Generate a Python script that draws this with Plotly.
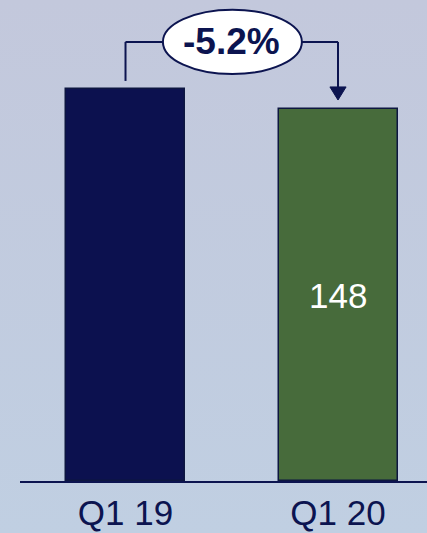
import plotly.graph_objects as go

# Quarterly values
categories = ["Q1 19", "Q1 20"]
values = [156, 148]
bar_colors = ["#0c114f", "#476b3b"]
labelled_bar = 1
change_label = "-5.2%"

NAVY = "#0c1450"
BG_TOP = "#c3c8dc"
BG_BOTTOM = "#c0cfe2"

fig = go.Figure()

# Soft vertical background gradient on a hidden full-page axis pair
fig.add_trace(go.Scatter(
    x=[0, 1, 1, 0, 0], y=[0, 0, 1, 1, 0],
    xaxis="x", yaxis="y",
    mode="none", fill="toself",
    fillgradient=dict(type="vertical", colorscale=[[0, BG_BOTTOM], [1, BG_TOP]]),
    hoverinfo="skip", showlegend=False,
))

fig.add_trace(go.Bar(
    x=[0, 1], y=values,
    xaxis="x2", yaxis="y2",
    width=0.56,
    marker=dict(color=bar_colors, line=dict(color="#0d1640", width=1.5)),
    showlegend=False,
))

# value label centred inside the labelled bar
fig.add_annotation(
    x=labelled_bar, y=values[labelled_bar] / 2, xref="x2", yref="y2",
    text=str(values[labelled_bar]), showarrow=False,
    font=dict(size=35, color="white", family="Liberation Sans, Arial"),
)

top = max(values)
y_bracket = top * 1.12
shapes = [
    # left riser from first bar up to bracket
    dict(type="line", xref="x2", yref="y2", x0=0, x1=0, y0=values[0] + 3.2, y1=y_bracket,
         line=dict(color=NAVY, width=2)),
    # horizontal span
    dict(type="line", xref="x2", yref="y2", x0=0, x1=1, y0=y_bracket, y1=y_bracket,
         line=dict(color=NAVY, width=2)),
    # right drop toward second bar
    dict(type="line", xref="x2", yref="y2", x0=1, x1=1, y0=y_bracket, y1=values[1] + 8,
         line=dict(color=NAVY, width=2)),
    # arrowhead
    dict(type="path", xref="x2", yref="y2",
         path=f"M {1 - 0.038} {values[1] + 8.8} L {1 + 0.038} {values[1] + 8.8} L 1 {values[1] + 3.6} Z",
         fillcolor=NAVY, line=dict(color=NAVY, width=1)),
    # ellipse behind the change label
    dict(type="circle", xref="x2", yref="y2", x0=0.176, x1=0.83,
         y0=y_bracket - 12.8, y1=y_bracket + 12.8,
         fillcolor="white", line=dict(color=NAVY, width=2)),
]

fig.add_annotation(
    x=0.5, y=y_bracket, xref="x2", yref="y2", text=f"<b>{change_label}</b>",
    showarrow=False, font=dict(size=37, color=NAVY, family="Liberation Sans, Arial"),
)

fig.update_layout(
    width=427, height=533,
    margin=dict(l=0, r=0, t=0, b=0, autoexpand=False),
    paper_bgcolor=BG_BOTTOM, plot_bgcolor="rgba(0,0,0,0)",
    shapes=shapes,
    xaxis=dict(domain=[0, 1], range=[0, 1], visible=False, fixedrange=True),
    yaxis=dict(domain=[0, 1], range=[0, 1], visible=False, fixedrange=True),
    xaxis2=dict(
        domain=[20 / 427, 1], anchor="y2",
        range=[-0.4965, 1.4188],
        tickmode="array", tickvals=[0, 1], ticktext=categories,
        showline=True, linecolor=NAVY, linewidth=1.5,
        showgrid=False, zeroline=False, ticks="",
        ticklabelstandoff=0, automargin=False,
        tickfont=dict(size=35, color=NAVY, family="Liberation Sans, Arial"),
    ),
    yaxis2=dict(
        domain=[52 / 533, 1], anchor="x2",
        range=[0, 191.4],
        visible=False, showgrid=False, zeroline=False,
    ),
    bargap=0,
)

fig.write_html("out.html")
